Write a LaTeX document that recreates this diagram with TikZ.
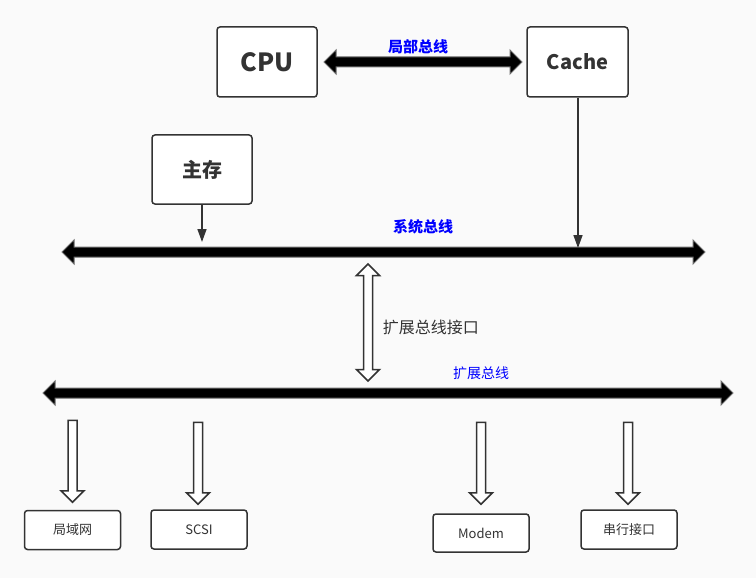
\documentclass[tikz,border=0pt]{standalone}
\usepackage{fontspec}
\setmainfont{Noto Sans CJK SC}
\usepackage{tikz}
\usetikzlibrary{positioning,arrows.meta,shapes.arrows}
\definecolor{colorbg}    {RGB}{250,250,250}
\definecolor{colorline}  {RGB}{51 ,51 ,51 }
\definecolor{colorlabel} {RGB}{0  ,0  ,255}
\definecolor{colorrim}   {RGB}{110,110,110}

\begin{document}
\begin{tikzpicture}[
    x=1pt, y=-1pt,
    box/.style={draw=colorline,fill=white,line width=1.5pt,rounded corners=3pt,align=center,text=colorline},
    bigbox/.style={box,minimum width=100pt,minimum height=70pt,font={\bfseries}},
    devbox/.style={box,minimum width=96pt,minimum height=39pt,font={\fontsize{13}{15}\selectfont}},
    bus/.style={double arrow,fill=black,draw=colorrim,line width=1pt,inner sep=4.5pt,
                double arrow head extend=7pt},
    hollow/.style={draw=colorline,fill=white,line width=1.5pt,inner sep=3.75pt},
    down/.style={hollow,single arrow,single arrow head extend=7pt,shape border rotate=270,minimum height=82pt},
    busname/.style={text=colorlabel,font={\bfseries\fontsize{15}{17}\selectfont}},
    feed/.style={draw=colorline,line width=1.5pt,-{Triangle[length=13pt,width=9pt]}},
]

    % Background
    \useasboundingbox[fill=colorbg] (0,0) rectangle (756,578);

    % Upper boxes
    \node[bigbox,font={\bfseries\fontsize{25}{28}\selectfont}] (cpu)   at (267,62)    {CPU};
    \node[bigbox,font={\bfseries\fontsize{20}{24}\selectfont},minimum width=101pt] (cache) at (577.5,62) {Cache};
    \node[bigbox,font={\bfseries\fontsize{20}{24}\selectfont},minimum height=69pt] (mem) at (202,169.5) {主存};

    % Buses
    \node[bus,minimum height=198pt] (localbus) at (423,62)    {};
    \node[bus,minimum height=643pt] (sysbus)   at (383.5,252) {};
    \node[bus,minimum height=690pt] (extbus)   at (388,393)   {};

    % Bus names
    \node[busname] at (418,47)  {局部总线};
    \node[busname] at (423,227) {系统总线};
    \node[text=colorlabel,font={\fontsize{14}{16}\selectfont}] at (481,373) {扩展总线};

    % Arrows into the system bus
    \coordinate (memin)   at (202,242);
    \coordinate (cachein) at (578,248);
    \draw[feed] (mem.south) -- (memin);
    \draw[feed] (cache.south -| cachein) -- (cachein);

    % Bus interface
    \node[hollow,double arrow,double arrow head extend=7pt,shape border rotate=90,minimum height=117pt] (iface) at (368,322.5) {};
    \node[text=colorline,font={\fontsize{16}{18}\selectfont},right=6pt of iface,yshift=-5pt] {扩展总线接口};

    % Devices
    \node[devbox] (lan)    at (72.5,530) {局域网};
    \node[devbox] (scsi)   at (199,529.5) {SCSI};
    \node[devbox,minimum height=38pt] (modem) at (481,533) {Modem};
    \node[devbox] (serial) at (629,529.5) {串行接口};

    % Arrows to devices
    \node[down] (tolan)    at (72.5,459) {};
    \node[down] (toscsi)   at (198,461)  {};
    \node[down] (tomodem)  at (481,461)  {};
    \node[down] (toserial) at (628,461)  {};

\end{tikzpicture}
\end{document}
